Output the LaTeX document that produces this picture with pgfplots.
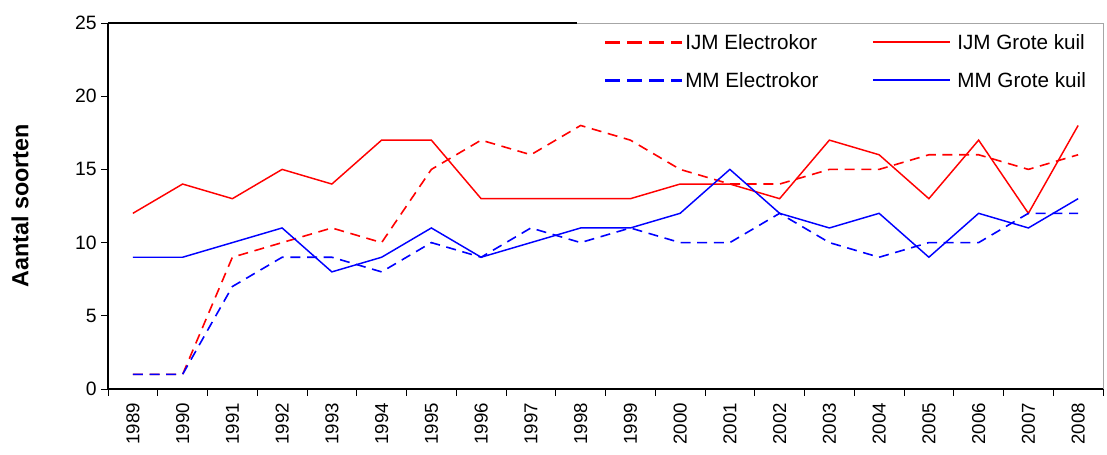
\documentclass[border=0pt]{standalone}
\usepackage{fontspec}
\setmainfont{Liberation Sans}
\usepackage{pgfplots}
\pgfplotsset{compat=1.18}
\begin{document}
\begin{tikzpicture}
\useasboundingbox (-81pt,-48.75pt) rectangle (749.25pt,291.75pt);
\begin{axis}[
  at={(0,0)}, anchor=south west,
  scale only axis, width=746.25pt, height=274.5pt,
  xmin=-0.5, xmax=19.5, ymin=0, ymax=25,
  ytick={0,5,10,15,20,25},
  xtick={0,...,19},
  xticklabels={1989,1990,1991,1992,1993,1994,1995,1996,1997,1998,1999,2000,2001,2002,2003,2004,2005,2006,2007,2008},
  minor xtick={-0.5,0.5,...,19.5},
  major x tick style={draw=none},
  tick align=outside,
  major tick length=5pt, minor tick length=5pt,
  tick style={black, line width=0.6pt},
  axis x line*=bottom, axis y line*=left,
  axis line style={black, line width=1.2pt, -},
  x tick label style={rotate=90, anchor=east, font=\fontsize{14}{16}\selectfont, xshift=-2pt},
  y tick label style={font=\fontsize{14.5}{17}\selectfont},
  /pgf/number format/assume math mode=true,
  ylabel={\bfseries Aantal soorten},
  every axis y label/.append style={at={(axis description cs:-0.0884,0.5)}, anchor=center, font=\fontsize{17.5}{20}\selectfont},
  clip=false,
]
\draw[gray!70, line width=0.6pt] (rel axis cs:0,1) -- (rel axis cs:1,1) -- (rel axis cs:1,0);
\draw[black, line width=1.2pt] (rel axis cs:0,1) -- (rel axis cs:0.4714,1);
% IJM Electrokor
\addplot[red, line width=1.2pt, dash pattern=on 7.5pt off 5pt] coordinates {
(0,1)(1,1)(2,9)(3,10)(4,11)(5,10)(6,15)(7,17)(8,16)(9,18)(10,17)(11,15)(12,14)(13,14)(14,15)(15,15)(16,16)(17,16)(18,15)(19,16)};
% IJM Grote kuil
\addplot[red, line width=1.1pt] coordinates {
(0,12)(1,14)(2,13)(3,15)(4,14)(5,17)(6,17)(7,13)(8,13)(9,13)(10,13)(11,14)(12,14)(13,13)(14,17)(15,16)(16,13)(17,17)(18,12)(19,18)};
% MM Electrokor
\addplot[blue, line width=1.2pt, dash pattern=on 7.5pt off 5pt] coordinates {
(0,1)(1,1)(2,7)(3,9)(4,9)(5,8)(6,10)(7,9)(8,11)(9,10)(10,11)(11,10)(12,10)(13,12)(14,10)(15,9)(16,10)(17,10)(18,12)(19,12)};
% MM Grote kuil
\addplot[blue, line width=1.1pt] coordinates {
(0,9)(1,9)(2,10)(3,11)(4,8)(5,9)(6,11)(7,9)(8,10)(9,11)(10,11)(11,12)(12,15)(13,12)(14,11)(15,12)(16,9)(17,12)(18,11)(19,13)};
% legend (drawn by hand)
\draw[red, line width=2.2pt, dash pattern=on 11pt off 5.5pt] (axis description cs:0.4995,0.948) -- (axis description cs:0.5769,0.948);
\node[anchor=west, inner sep=0pt, font=\fontsize{15.5}{18}\selectfont] at (axis description cs:0.5799,0.948) {IJM Electrokor};
\draw[red, line width=1.2pt] (axis description cs:0.7688,0.948) -- (axis description cs:0.8462,0.948);
\node[anchor=west, inner sep=0pt, font=\fontsize{15.5}{18}\selectfont] at (axis description cs:0.8533,0.948) {IJM Grote kuil};
\draw[blue, line width=2.2pt, dash pattern=on 11pt off 5.5pt] (axis description cs:0.4995,0.844) -- (axis description cs:0.5769,0.844);
\node[anchor=west, inner sep=0pt, font=\fontsize{15.5}{18}\selectfont] at (axis description cs:0.5799,0.844) {MM Electrokor};
\draw[blue, line width=1.2pt] (axis description cs:0.7688,0.844) -- (axis description cs:0.8462,0.844);
\node[anchor=west, inner sep=0pt, font=\fontsize{15.5}{18}\selectfont] at (axis description cs:0.8533,0.844) {MM Grote kuil};
\end{axis}
\end{tikzpicture}
\end{document}
